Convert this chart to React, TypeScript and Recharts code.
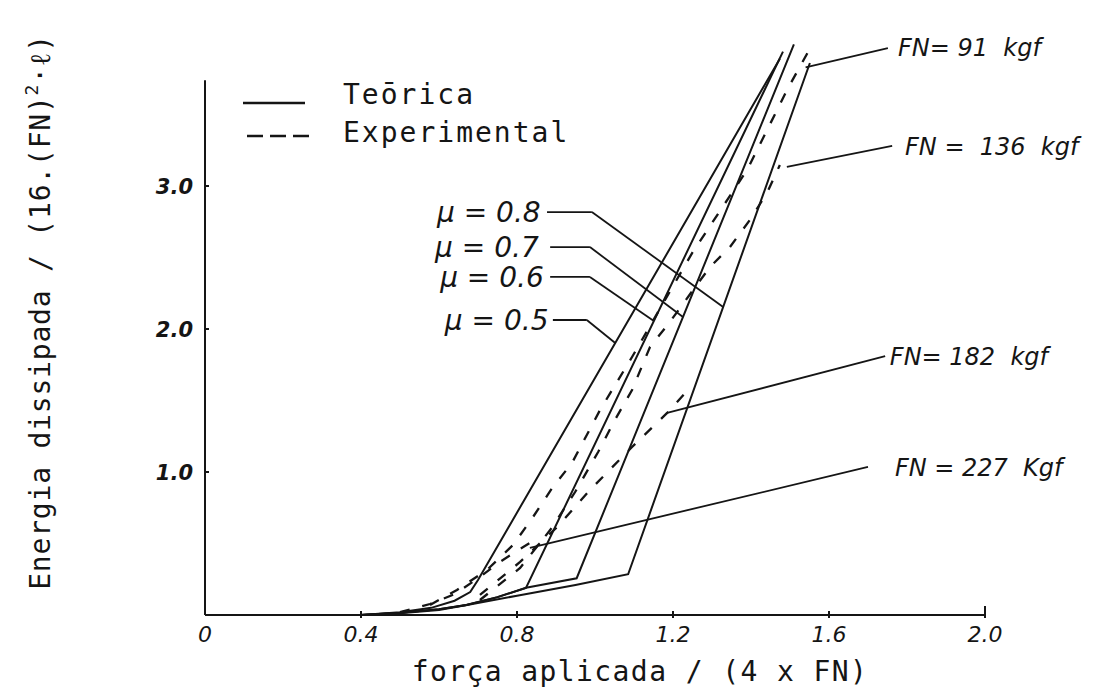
import { Legend, Line, LineChart, ReferenceDot, ReferenceLine, XAxis, YAxis } from "recharts"

// eixos
const xTicks = [0, 0.4, 0.8, 1.2, 1.6, 2.0]
const xTickLabels = ["0", "0.4", "0.8", "1.2", "1.6", "2.0"]
const yTicks = [1, 2, 3]
const yTickLabels = ["1.0", "2.0", "3.0"]
const yAxisTop = 3.74

// curvas teoricas, uma por coeficiente de atrito
const muLabels = ["μ = 0.5", "μ = 0.6", "μ = 0.7", "μ = 0.8"]
const teoricaMu05 = [
  { x: 0.4, y: 0 },
  { x: 0.5, y: 0.02 },
  { x: 0.58, y: 0.05 },
  { x: 0.64, y: 0.1 },
  { x: 0.68, y: 0.16 },
  { x: 0.7, y: 0.245 },
  { x: 1.474, y: 3.89 },
]
const teoricaMu06 = [
  { x: 0.4, y: 0 },
  { x: 0.5, y: 0.015 },
  { x: 0.6, y: 0.04 },
  { x: 0.67, y: 0.07 },
  { x: 0.75, y: 0.125 },
  { x: 0.823, y: 0.19 },
  { x: 1.482, y: 3.94 },
]
const teoricaMu07 = [
  { x: 0.4, y: 0 },
  { x: 0.5, y: 0.015 },
  { x: 0.6, y: 0.04 },
  { x: 0.67, y: 0.07 },
  { x: 0.75, y: 0.125 },
  { x: 0.823, y: 0.19 },
  { x: 0.953, y: 0.257 },
  { x: 1.51, y: 3.99 },
]
const teoricaMu08 = [
  { x: 0.4, y: 0 },
  { x: 0.5, y: 0.012 },
  { x: 0.6, y: 0.035 },
  { x: 0.672, y: 0.07 },
  { x: 0.8, y: 0.135 },
  { x: 0.95, y: 0.21 },
  { x: 1.085, y: 0.285 },
  { x: 1.551, y: 3.86 },
]

// curvas experimentais, uma por carga normal
const fnLabels = ["FN= 91  kgf", "FN =  136  kgf", "FN= 182  kgf", "FN = 227  Kgf"]
const expFn91 = [
  { x: 0.577, y: 0.07 },
  { x: 0.646, y: 0.175 },
  { x: 0.723, y: 0.315 },
  { x: 0.79, y: 0.49 },
  { x: 0.841, y: 0.685 },
  { x: 0.892, y: 0.895 },
  { x: 0.941, y: 1.063 },
  { x: 1.013, y: 1.434 },
  { x: 1.095, y: 1.804 },
  { x: 1.249, y: 2.531 },
  { x: 1.39, y: 3.112 },
  { x: 1.495, y: 3.685 },
  { x: 1.559, y: 4.0 },
]
const expFn136 = [
  { x: 0.705, y: 0.105 },
  { x: 0.808, y: 0.329 },
  { x: 0.885, y: 0.594 },
  { x: 0.949, y: 0.86 },
  { x: 1.008, y: 1.14 },
  { x: 1.051, y: 1.364 },
  { x: 1.095, y: 1.573 },
  { x: 1.141, y: 1.874 },
  { x: 1.192, y: 2.049 },
  { x: 1.244, y: 2.245 },
  { x: 1.295, y: 2.434 },
  { x: 1.346, y: 2.573 },
  { x: 1.397, y: 2.762 },
  { x: 1.441, y: 2.951 },
  { x: 1.474, y: 3.147 },
]
const expFn182 = [
  { x: 0.705, y: 0.14 },
  { x: 0.808, y: 0.371 },
  { x: 0.903, y: 0.615 },
  { x: 0.987, y: 0.874 },
  { x: 1.095, y: 1.175 },
  { x: 1.185, y: 1.413 },
  { x: 1.238, y: 1.573 },
]
const expFn227 = [
  { x: 0.5, y: 0.02 },
  { x: 0.577, y: 0.077 },
  { x: 0.641, y: 0.147 },
  { x: 0.705, y: 0.266 },
  { x: 0.756, y: 0.371 },
  { x: 0.8, y: 0.448 },
  { x: 0.841, y: 0.517 },
]

const teoricas = [teoricaMu05, teoricaMu06, teoricaMu07, teoricaMu08]
const experimentais = [expFn91, expFn136, expFn182, expFn227]

// chamadas dos rotulos mu: texto, cotovelo e altura onde tocam a curva
const muTextPos = [
  { x: 0.615, y: 2.063 },
  { x: 0.603, y: 2.364 },
  { x: 0.59, y: 2.573 },
  { x: 0.595, y: 2.818 },
]
const muLeaderStartX = [0.892, 0.885, 0.885, 0.877]
const muLeaderKneeX = [0.979, 0.987, 0.987, 0.992]
const muLeaderEndY = [1.902, 2.056, 2.084, 2.154]

// chamadas dos rotulos FN
const fnTextPos = [
  { x: 1.777, y: 3.965 },
  { x: 1.795, y: 3.273 },
  { x: 1.756, y: 1.804 },
  { x: 1.769, y: 1.028 },
]
const fnLeaderStart = [
  { x: 1.751, y: 3.965 },
  { x: 1.762, y: 3.28 },
  { x: 1.744, y: 1.81 },
  { x: 1.7, y: 1.035 },
]
const fnLeaderEnd = [
  { x: 1.54, y: 3.83 },
  { x: 1.492, y: 3.133 },
  { x: 1.185, y: 1.413 },
  { x: 0.833, y: 0.47 },
]

const INK = "#151515"
const TYPE_FONT = "'DejaVu Sans Mono', monospace"
const HAND_FONT = "'DejaVu Sans', sans-serif"

// x da curva na altura y (interpolacao linear no trecho que contem y)
function xAtY(points: { x: number; y: number }[], y: number) {
  for (let i = 1; i < points.length; i++) {
    const a = points[i - 1]
    const b = points[i]
    if (y >= a.y && y <= b.y && b.y !== a.y) {
      return a.x + ((y - a.y) / (b.y - a.y)) * (b.x - a.x)
    }
  }
  return points[points.length - 1].x
}

function XTick(props: any) {
  const { x, y, index } = props
  return (
    <g>
      {index > 0 && <line x1={x} x2={x} y1={y - (index === 5 ? 9 : 4)} y2={y + 3} stroke={INK} strokeWidth={2} />}
      <text x={x} y={y + 27} textAnchor="middle" fontFamily={HAND_FONT} fontStyle="italic" fontSize={22} fill={INK}>
        {xTickLabels[index]}
      </text>
    </g>
  )
}

function YTick(props: any) {
  const { x, y, index } = props
  return (
    <g>
      <line x1={x - 1} x2={x + 4} y1={y} y2={y} stroke={INK} strokeWidth={2} />
      <text x={x - 12} y={y + 8} textAnchor="end" fontFamily={HAND_FONT} fontStyle="italic" fontWeight="bold" fontSize={21} fill={INK}>
        {yTickLabels[index]}
      </text>
    </g>
  )
}

function LegendBox() {
  return (
    <svg width={340} height={90}>
      <line x1={8} x2={70} y1={33} y2={33} stroke={INK} strokeWidth={2.5} />
      <line x1={12} x2={75} y1={66} y2={66} stroke={INK} strokeWidth={2.5} strokeDasharray="16 7" />
      <text x={108} y={34} fontFamily={TYPE_FONT} fontSize={28} letterSpacing={2} fill={INK}>
        Teōrica
      </text>
      <text x={108} y={72} fontFamily={TYPE_FONT} fontSize={28} letterSpacing={2} fill={INK}>
        Experimental
      </text>
    </svg>
  )
}

function noteShape(text: string, size: number) {
  return (p: any) => (
    <text
      x={p.cx}
      y={p.cy + size * 0.35}
      fontFamily={HAND_FONT}
      fontStyle="italic"
      fontSize={size}
      fill={INK}
      style={{ whiteSpace: "pre" }}
    >
      {text}
    </text>
  )
}

export default function App() {
  return (
    <div style={{ position: "absolute", left: 0, top: 0, width: 1111, height: 693, background: "#fff" }}>
      <LineChart width={1111} height={693} margin={{ top: 43, right: 126, bottom: 18, left: 145 }}>
        <XAxis
          dataKey="x"
          type="number"
          domain={[0, 2]}
          ticks={xTicks}
          tickSize={0}
          tickMargin={0}
          height={60}
          axisLine={{ stroke: INK, strokeWidth: 2 }}
          tickLine={false}
          tick={<XTick />}
          interval={0}
          label={{
            content: () => (
              <text x={640} y={681} textAnchor="middle" fontFamily={TYPE_FONT} fontSize={28} letterSpacing={1.4} fill={INK}>
                força aplicada / (4 x FN)
              </text>
            ),
          }}
        />
        <YAxis
          type="number"
          domain={[0, 4]}
          ticks={yTicks}
          tickSize={0}
          tickMargin={0}
          width={60}
          axisLine={false}
          tickLine={false}
          tick={<YTick />}
          interval={0}
          label={{
            content: () => (
              <text
                transform="translate(50, 312) rotate(-90)"
                textAnchor="middle"
                fontFamily={TYPE_FONT}
                fontSize={28}
                letterSpacing={0.8}
                fill={INK}
              >
                Energia dissipada / (16.(FN)
                <tspan dy={-12} fontSize={18}>
                  2
                </tspan>
                <tspan dy={12}>·ℓ)</tspan>
              </text>
            ),
          }}
        />
        <ReferenceLine
          segment={[
            { x: 0, y: 0 },
            { x: 0, y: yAxisTop },
          ]}
          stroke={INK}
          strokeWidth={2}
          ifOverflow="visible"
        />
        <Legend
          layout="vertical"
          align="center"
          verticalAlign="middle"
          wrapperStyle={{ left: 235, top: 70, width: 340 }}
          content={() => <LegendBox />}
        />

        {teoricas.map((s, i) => (
          <Line
            key={"t" + i}
            data={s}
            dataKey="y"
            type="linear"
            stroke={INK}
            strokeWidth={2}
            dot={false}
            isAnimationActive={false}
            name={muLabels[i]}
          />
        ))}
        {experimentais.map((s, i) => (
          <Line
            key={"e" + i}
            data={s}
            dataKey="y"
            type="linear"
            stroke={INK}
            strokeWidth={2.3}
            strokeDasharray="10 13"
            dot={false}
            isAnimationActive={false}
            name={fnLabels[i]}
          />
        ))}

        {/* chamadas dos coeficientes de atrito */}
        {teoricas.map((s, i) => (
          <ReferenceLine
            key={"mh" + i}
            segment={[
              { x: muLeaderStartX[i], y: muTextPos[i].y },
              { x: muLeaderKneeX[i], y: muTextPos[i].y },
            ]}
            stroke={INK}
            strokeWidth={1.8}
            ifOverflow="visible"
          />
        ))}
        {teoricas.map((s, i) => (
          <ReferenceLine
            key={"md" + i}
            segment={[
              { x: muLeaderKneeX[i], y: muTextPos[i].y },
              { x: xAtY(s, muLeaderEndY[i]), y: muLeaderEndY[i] },
            ]}
            stroke={INK}
            strokeWidth={1.8}
            ifOverflow="visible"
          />
        ))}
        {muTextPos.map((p, i) => (
          <ReferenceDot key={"mt" + i} x={p.x} y={p.y} r={0} ifOverflow="visible" shape={noteShape(muLabels[i], 28)} />
        ))}

        {/* chamadas das cargas normais */}
        {fnLeaderStart.map((p, i) => (
          <ReferenceLine
            key={"fl" + i}
            segment={[p, fnLeaderEnd[i]]}
            stroke={INK}
            strokeWidth={1.8}
            ifOverflow="visible"
          />
        ))}
        {fnTextPos.map((p, i) => (
          <ReferenceDot key={"ft" + i} x={p.x} y={p.y} r={0} ifOverflow="visible" shape={noteShape(fnLabels[i], 24)} />
        ))}
      </LineChart>
    </div>
  )
}
